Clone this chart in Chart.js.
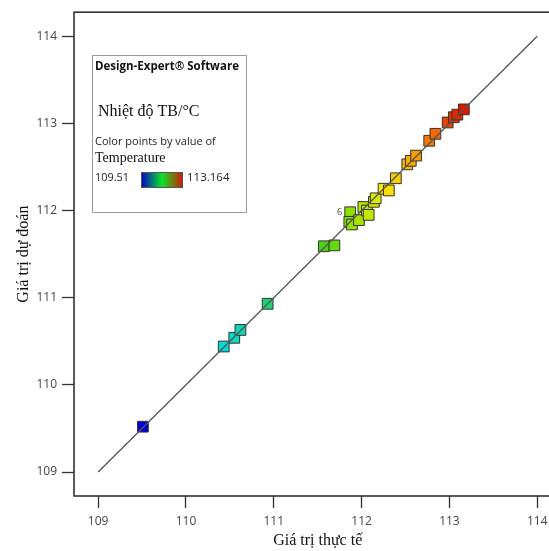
<!DOCTYPE html>
<html>
<head>
<meta charset="utf-8">
<script src="https://cdn.jsdelivr.net/npm/chart.js@4.4.1/dist/chart.umd.min.js"></script>
<style>
  html, body { margin: 0; padding: 0; background: #fff; overflow: hidden; }
  #wrap { width: 549px; height: 551px; overflow: hidden; }
</style>
</head>
<body>
<div id="wrap"><canvas id="chart" width="570" height="551"></canvas></div>
<script>
// giá trị thực tế (x) và giá trị dự đoán (y)
const actualValues = [109.51, 110.43, 110.55, 110.62, 110.93, 111.57, 111.69, 111.87, 111.86, 111.89,
  111.97, 112.02, 112.06, 112.08, 112.14, 112.16, 112.25, 112.31, 112.39, 112.52,
  112.56, 112.62, 112.77, 112.84, 112.98, 113.05, 113.09, 113.164];
const predictedValues = [109.52, 110.44, 110.54, 110.63, 110.93, 111.59, 111.60, 111.98, 111.87, 111.84,
  111.89, 112.04, 112.00, 111.95, 112.10, 112.14, 112.25, 112.23, 112.37, 112.53,
  112.57, 112.63, 112.80, 112.88, 113.01, 113.07, 113.10, 113.16];
const tickValues = [109, 110, 111, 112, 113, 114];
const lineEnds = [109, 114];
const pointLabels = [{ index: 7, text: '6' }];
const tempMin = 109.51, tempMax = 113.164;
const axisMin = 108.725, axisMax = 114.275;

// bảng màu cho điểm
const colorStops = [
  [0, [0, 0, 210]], [0.25, [0, 220, 215]], [0.4, [30, 210, 110]], [0.55, [60, 210, 20]],
  [0.65, [145, 225, 0]], [0.75, [245, 235, 0]], [0.83, [250, 175, 0]], [0.9, [245, 115, 0]],
  [1, [225, 20, 0]]
];
function tempColor(v) {
  const t = Math.min(1, Math.max(0, (v - tempMin) / (tempMax - tempMin)));
  for (let i = 1; i < colorStops.length; i++) {
    if (t <= colorStops[i][0]) {
      const [t0, c0] = colorStops[i - 1], [t1, c1] = colorStops[i];
      const f = (t - t0) / (t1 - t0);
      const c = c0.map((a, k) => Math.round(a + (c1[k] - a) * f));
      return 'rgb(' + c.join(',') + ')';
    }
  }
  return 'rgb(225,20,0)';
}

const points = actualValues.map((x, i) => ({ x: x, y: predictedValues[i] }));
const tickFont = { family: 'Open Sans', size: 12 };

const framePlugin = {
  id: 'frame',
  afterDatasetsDraw(chart) {
    const ctx = chart.ctx, a = chart.chartArea;
    ctx.save();
    ctx.strokeStyle = '#333';
    ctx.lineWidth = 1.6;
    ctx.strokeRect(a.left, a.top, a.right - a.left, a.bottom - a.top);

    // nhãn số lần chạy
    const meta = chart.getDatasetMeta(1);
    ctx.fillStyle = '#444';
    ctx.font = '9px "Open Sans"';
    ctx.textAlign = 'right';
    ctx.textBaseline = 'middle';
    pointLabels.forEach(p => {
      const el = meta.data[p.index];
      ctx.fillText(p.text, el.x - 8, el.y);
    });
    ctx.restore();
  },
  afterDraw(chart) {
    const ctx = chart.ctx;
    ctx.save();
    // hộp chú thích
    ctx.fillStyle = '#fff';
    ctx.fillRect(92, 55, 154, 157);
    ctx.strokeStyle = '#9a9a9a';
    ctx.lineWidth = 1;
    ctx.strokeRect(92.5, 55.5, 154, 157);

    ctx.fillStyle = '#111';
    ctx.textAlign = 'left';
    ctx.textBaseline = 'middle';
    ctx.font = 'bold 11.5px "Open Sans"';
    ctx.fillText('Design-Expert® Software', 95, 67, 144);
    ctx.font = '16px "Liberation Serif"';
    ctx.fillText('Nhiệt độ TB/°C', 98, 112, 110);
    ctx.fillStyle = '#222';
    ctx.font = '11px "Open Sans"';
    ctx.fillText('Color points by value of', 95, 142, 128);
    ctx.fillStyle = '#111';
    ctx.font = '14px "Liberation Serif"';
    ctx.fillText('Temperature', 95, 158, 76);
    ctx.fillStyle = '#222';
    ctx.font = '11.5px "Open Sans"';
    ctx.fillText(String(tempMin), 95, 178, 34);
    ctx.fillText(String(tempMax), 187, 178, 44);

    const g = ctx.createLinearGradient(141, 0, 183, 0);
    g.addColorStop(0, 'rgb(0,0,200)');
    g.addColorStop(0.5, 'rgb(10,230,40)');
    g.addColorStop(1, 'rgb(215,20,0)');
    ctx.fillStyle = g;
    ctx.fillRect(141, 172, 42, 16);
    ctx.strokeStyle = '#555';
    ctx.strokeRect(141.5, 172.5, 41, 15);
    ctx.restore();
  }
};

const ctx = document.getElementById('chart').getContext('2d');
new Chart(ctx, {
  type: 'scatter',
  data: {
    datasets: [
      {
        type: 'line',
        data: lineEnds.map(v => ({ x: v, y: v })),
        borderColor: '#555',
        borderWidth: 1.3,
        pointRadius: 0,
        order: 0
      },
      {
        data: points,
        pointStyle: 'rect',
        pointRadius: 7.6,
        backgroundColor: actualValues.map(tempColor),
        borderColor: '#333',
        borderWidth: 1,
        order: 1
      }
    ]
  },
  options: {
    responsive: false,
    animation: false,
    devicePixelRatio: 1,
    layout: { padding: { left: 0, top: 9, right: 8, bottom: 0 } },
    plugins: { legend: { display: false }, tooltip: { enabled: false } },
    scales: {
      x: {
        type: 'linear',
        min: axisMin,
        max: axisMax,
        afterBuildTicks: s => { s.ticks = tickValues.map(v => ({ value: v })); },
        afterFit: s => { s.height = 55; },
        ticks: { font: tickFont, color: '#444', padding: 6, maxRotation: 0 },
        grid: { drawOnChartArea: false, drawTicks: true, tickLength: 12, tickColor: '#333', tickWidth: 1.3 },
        border: { display: false },
        title: { display: true, text: 'Giá trị thực tế', color: '#111',
          font: { family: 'Liberation Serif', size: 16 }, padding: { top: 0, bottom: 1 } }
      },
      y: {
        type: 'linear',
        min: axisMin,
        max: axisMax,
        afterBuildTicks: s => { s.ticks = tickValues.map(v => ({ value: v })); },
        afterFit: s => { s.width = 74; },
        ticks: { font: tickFont, color: '#444', padding: 5 },
        grid: { drawOnChartArea: false, drawTicks: true, tickLength: 12, tickColor: '#333', tickWidth: 1.3 },
        border: { display: false },
        title: { display: true, text: 'Giá trị dự đoán', color: '#111',
          font: { family: 'Liberation Serif', size: 16 }, padding: { top: 14, bottom: 0 } }
      }
    }
  },
  plugins: [framePlugin]
});
</script>
</body>
</html>
